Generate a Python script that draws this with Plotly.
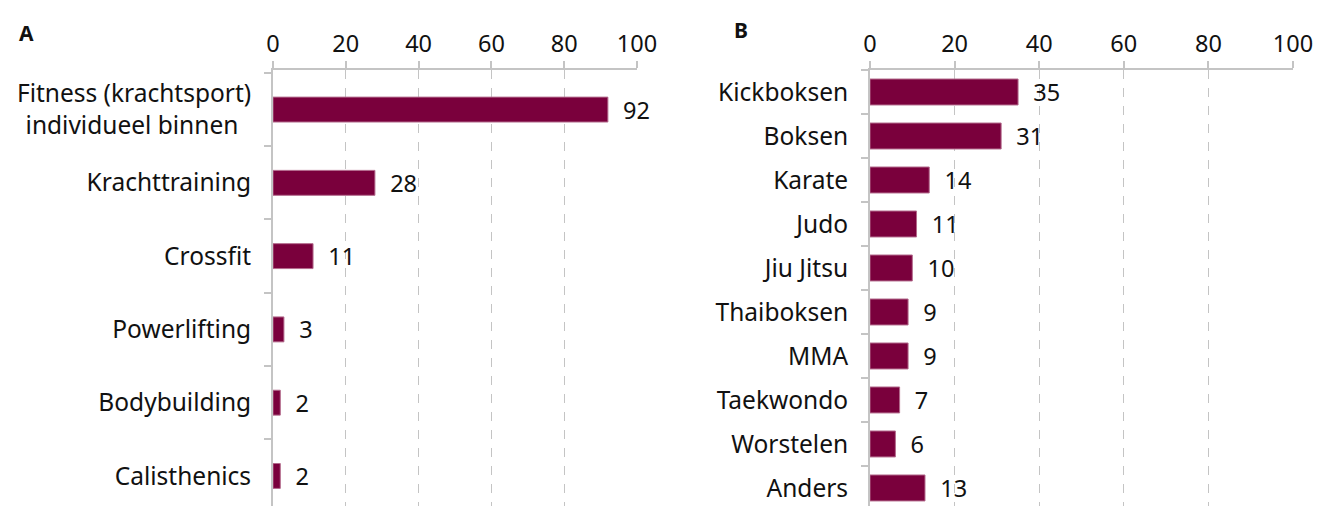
import plotly.graph_objects as go

cats_a = ["Fitness (krachtsport)<br>individueel binnen\u00a0\u00a0", "Krachttraining", "Crossfit",
          "Powerlifting", "Bodybuilding", "Calisthenics"]
vals_a = [92, 28, 11, 3, 2, 2]

cats_b = ["Kickboksen", "Boksen", "Karate", "Judo", "Jiu Jitsu", "Thaiboksen",
          "MMA", "Taekwondo", "Worstelen", "Anders"]
vals_b = [35, 31, 14, 11, 10, 9, 9, 7, 6, 13]

x_ticks = [0, 20, 40, 60, 80, 100]

BAR = "#7a003c"
GRID = "#c4c4c4"
FONT = "Noto Sans"
FS = 23.5
FSC = 24.5

fig = go.Figure()
fig.add_trace(go.Bar(x=vals_a, y=cats_a, orientation="h", xaxis="x", yaxis="y",
                     width=0.34, marker=dict(color=BAR, line=dict(color="#b36a8c", width=1)),
                     text=vals_a, texttemplate="  %{x}", textposition="outside",
                     constraintext="none",
                     textfont=dict(size=FS, color="#111"), cliponaxis=False))
fig.add_trace(go.Bar(x=vals_b, y=cats_b, orientation="h", xaxis="x2", yaxis="y2",
                     width=0.59, marker=dict(color=BAR, line=dict(color="#b36a8c", width=1)),
                     text=vals_b, texttemplate="  %{x}", textposition="outside",
                     constraintext="none",
                     textfont=dict(size=FS, color="#111"), cliponaxis=False))

xcommon = dict(range=[0, 100], tickvals=x_ticks, side="top", showline=True, linecolor=GRID,
               linewidth=2, ticks="outside", ticklen=7, tickcolor=GRID, tickwidth=2,
               showgrid=True, gridcolor=GRID, griddash="dash", gridwidth=1.3,
               zeroline=False, tickfont=dict(size=FS, color="#111"), fixedrange=True,
               automargin=False)
ycommon = dict(type="category", showline=True, linecolor=GRID, linewidth=2, ticks="outside",
               tickson="boundaries", ticklen=7, tickcolor=GRID, tickwidth=2, showgrid=False,
               zeroline=False, tickfont=dict(size=FSC, color="#111"), ticklabelstandoff=15,
               automargin=False, fixedrange=True)

fig.update_layout(
    width=1319, height=506,
    margin=dict(l=0, r=0, t=70, b=0),
    paper_bgcolor="white", plot_bgcolor="white",
    font=dict(family=FONT, color="#111"),
    showlegend=False,
    xaxis=dict(domain=[273 / 1319, 637 / 1319], anchor="y", **xcommon),
    yaxis=dict(domain=[0, 1], anchor="x", range=[5.41, -0.54], **ycommon),
    xaxis2=dict(domain=[870 / 1319, 1293 / 1319], anchor="y2", **xcommon),
    yaxis2=dict(domain=[0, 1], anchor="x2", range=[9.41, -0.5], **ycommon),
    annotations=[
        dict(text="<b>A</b>", x=26 / 1319, y=1 + (70 - 33) / 436, xref="paper", yref="paper",
             showarrow=False, xanchor="center", yanchor="middle", font=dict(size=21, color="#111")),
        dict(text="<b>B</b>", x=741 / 1319, y=1 + (70 - 30) / 436, xref="paper", yref="paper",
             showarrow=False, xanchor="center", yanchor="middle", font=dict(size=21, color="#111")),
    ],
)

fig.write_html("out.html", config={"displayModeBar": False},
               post_script="document.body.style.margin='0';document.body.style.overflow='hidden';")
